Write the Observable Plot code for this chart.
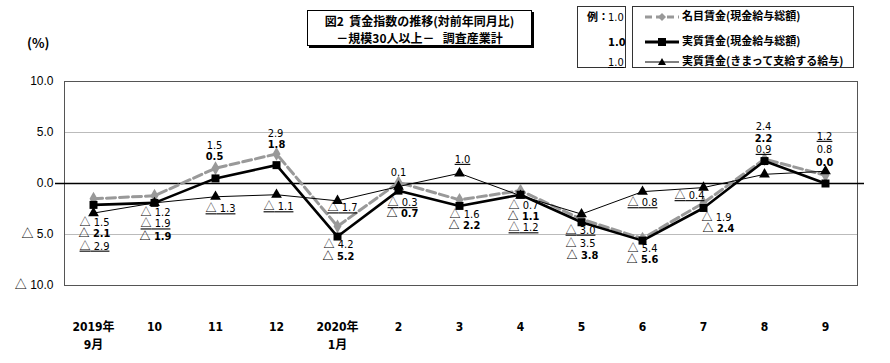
<!DOCTYPE html>
<html>
<head>
<meta charset="utf-8">
<script src="https://cdn.jsdelivr.net/npm/d3@7"></script>
<script src="https://cdn.jsdelivr.net/npm/@observablehq/plot@0.6"></script>
<style>
  body { margin: 0; background: #fff; }
  #wrap { position: relative; width: 890px; height: 363px; background: #fff; overflow: hidden; }
  #wrap svg.plot { position: absolute; left: 0; top: 0; }
  g[aria-description="underline"] text { text-decoration: underline; }
  tspan.tri { font-family: "Noto Sans CJK JP", sans-serif; }
  .jp { font-family: "Noto Sans CJK JP", sans-serif; font-weight: 700; color: #000; }
  .num { font-family: "Liberation Sans Narrow", "DejaVu Sans Condensed", "Arial Narrow", sans-serif; }
  .box { position: absolute; border: 1px solid #333; background: #fff; box-sizing: border-box; }
  .abs { position: absolute; white-space: nowrap; line-height: 1; }
</style>
</head>
<body>
<div id="wrap">
  <div class="abs jp" style="left:27px;top:36px;font-size:13px;">(%)</div>

  <div class="box jp" style="left:307px;top:10px;width:225px;height:36px;border-color:#000;box-shadow:2px 2px 0 #000;text-align:center;font-size:12px;line-height:17px;padding-top:1px;">
    図2&nbsp;&nbsp;賃金指数の推移(対前年同月比)<br>－規模30人以上－&nbsp;&nbsp;&nbsp;調査産業計
  </div>

  <div class="box" style="left:577px;top:6px;width:49px;height:62px;">
    <div class="abs jp" style="left:9px;top:4px;font-size:11px;">例：</div>
    <div class="abs num" style="left:30px;top:5px;font-size:11px;">1.0</div>
    <div class="abs num" style="left:30px;top:30px;font-size:11px;font-weight:700;">1.0</div>
    <div class="abs num" style="left:30px;top:50px;font-size:11px;text-decoration:underline;">1.0</div>
  </div>

  <div class="box" style="left:632px;top:6px;width:222px;height:62px;">
    <svg class="abs" style="left:10px;top:0;" width="40" height="62">
      <line x1="2" x2="36" y1="10" y2="10" stroke="#999" stroke-width="3" stroke-dasharray="7,4"/>
      <path d="M19,6 L23,10 L19,14 L15,10 Z" fill="#999"/>
      <line x1="2" x2="36" y1="35" y2="35" stroke="#000" stroke-width="3"/>
      <rect x="15" y="31" width="8" height="8" fill="#000"/>
      <line x1="2" x2="36" y1="55" y2="55" stroke="#000" stroke-width="1"/>
      <path d="M19,51 L23,58 L15,58 Z" fill="#000"/>
    </svg>
    <div class="abs jp" style="left:49px;top:3px;font-size:11px;">名目賃金(現金給与総額)</div>
    <div class="abs jp" style="left:49px;top:28px;font-size:11px;">実質賃金(現金給与総額)</div>
    <div class="abs jp" style="left:49px;top:48px;font-size:11px;">実質賃金(きまって支給する給与)</div>
  </div>
</div>
<script>
// ---- data ----
const months = ["2019年\n9月", "10", "11", "12", "2020年\n1月", "2", "3", "4", "5", "6", "7", "8", "9"];
const nominal   = [-1.5, -1.2, 1.5, 2.9, -4.2, 0.1, -1.6, -0.7, -3.5, -5.4, -1.9, 2.4, 0.8];
const real      = [-2.1, -1.9, 0.5, 1.8, -5.2, -0.7, -2.2, -1.1, -3.8, -5.6, -2.4, 2.2, 0.0];
const scheduled = [-2.9, -1.9, -1.3, -1.1, -1.7, -0.3, 1.0, -1.2, -3.0, -0.8, -0.4, 0.9, 1.2];
const yTicks = [10, 5, 0, -5, -10];

// ---- label placement (pixel offsets from each point) ----
const nominalLabelOffset   = [[1,24],[1,17],[-1,-23],[-1,-20],[1,18],[0,-10],[5,15],[3,15],[-1,24],[0,10],[13,15],[-1,-33],[-1,-26]];
const realLabelOffset      = [[1,29],[1,34],[-1,-22],[0,-21],[1,20],[4,23],[5,20],[3,22],[1,33],[0,19],[15,20],[-1,-23],[-1,-21]];
const scheduledLabelOffset = [[1,33],[1,21],[5,12],[2,12],[5,7],[4,16],[3,-14],[3,32],[-1,16],[0,11],[-14,8],[-1,-25],[-1,-35]];

const fmt = v => v < 0 ? "△ " + (-v).toFixed(1) : v.toFixed(1);
const table = months.map((m, i) => ({month: m, nominal: nominal[i], real: real[i], scheduled: scheduled[i]}));

const numFont = "Liberation Sans Narrow, DejaVu Sans Condensed, Arial Narrow, Noto Sans CJK JP, sans-serif";

const labelMarks = [];
table.forEach((d, i) => {
  labelMarks.push(Plot.text([d], {x: "month", y: "nominal", text: r => fmt(r.nominal),
    dx: nominalLabelOffset[i][0], dy: nominalLabelOffset[i][1], fontSize: 11, fontFamily: numFont, fill: "#000"}));
  labelMarks.push(Plot.text([d], {x: "month", y: "real", text: r => fmt(r.real),
    dx: realLabelOffset[i][0], dy: realLabelOffset[i][1], fontSize: 11, fontWeight: "bold", fontFamily: numFont, fill: "#000"}));
  labelMarks.push(Plot.text([d], {x: "month", y: "scheduled", text: r => fmt(r.scheduled),
    dx: scheduledLabelOffset[i][0], dy: scheduledLabelOffset[i][1], fontSize: 11, fontFamily: numFont, fill: "#000",
    ariaDescription: "underline"}));
});

const chart = Plot.plot({
  width: 890,
  height: 363,
  marginLeft: 64,
  marginRight: 33,
  marginTop: 81,
  marginBottom: 78,
  x: {type: "point", domain: months, range: [93, 825], padding: 0},
  y: {domain: [-10, 10]},
  marks: [
    Plot.ruleY([5, -5], {stroke: "#bbb", strokeWidth: 1}),
    Plot.frame({stroke: "#555", strokeWidth: 1}),
    Plot.ruleY([0], {stroke: "#000", strokeWidth: 1.6, insetLeft: -9, insetRight: -7}),
    Plot.axisY({ticks: yTicks, tickFormat: fmt, tickSize: 0, tickPadding: 11, label: null,
      fontSize: 12, fontFamily: "Liberation Sans, Arial, Noto Sans CJK JP, sans-serif", fill: "#000"}),
    Plot.axisX({tickSize: 0, tickPadding: 33, label: null, tickFormat: d => d,
      fontSize: 12, fontWeight: "bold", lineHeight: 1.5,
      fontFamily: "Liberation Sans Narrow, DejaVu Sans Condensed, Noto Sans CJK JP, sans-serif", fill: "#000"}),
    Plot.line(table, {x: "month", y: "nominal", stroke: "#999", strokeWidth: 3, strokeDasharray: "9,4"}),
    Plot.line(table, {x: "month", y: "scheduled", stroke: "#000", strokeWidth: 1}),
    Plot.line(table, {x: "month", y: "real", stroke: "#000", strokeWidth: 2.6}),
    Plot.dot(table, {x: "month", y: "nominal", symbol: "diamond", r: 4.2, fill: "#999"}),
    Plot.dot(table, {x: "month", y: "scheduled", symbol: "triangle", r: 4, fill: "#000"}),
    Plot.dot(table, {x: "month", y: "real", symbol: "square", r: 4.5, fill: "#000"}),
    ...labelMarks
  ]
});
chart.classList.add("plot");

// render the △ sign in the CJK font so it matches the reference's full-size triangle
d3.select(chart).selectAll("text").each(function() {
  const el = d3.select(this);
  if (!el.selectAll("tspan").empty()) return;
  const t = this.textContent;
  if (!t.startsWith("△")) return;
  el.text(null);
  el.append("tspan").attr("class", "tri").text("△");
  el.append("tspan").text(t.slice(1));
});

document.getElementById("wrap").prepend(chart);
</script>
</body>
</html>
